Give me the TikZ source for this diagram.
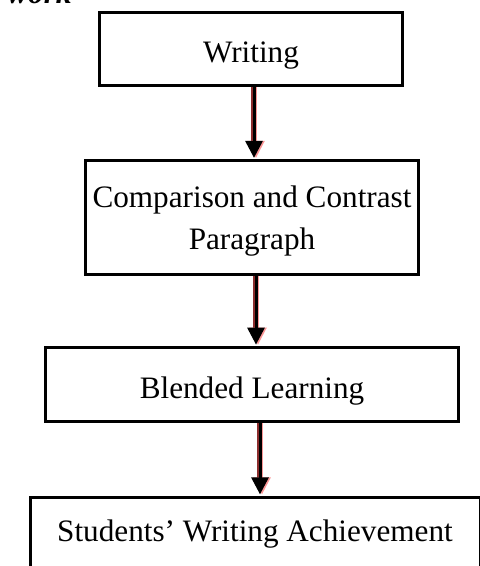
\documentclass[tikz,border=0pt]{standalone}
\usepackage{fontspec}
\setmainfont{Liberation Serif}
\usetikzlibrary{arrows.meta}
\definecolor{shadowred}{RGB}{140,45,45}
\definecolor{shadowpink}{RGB}{250,150,150}
\newcommand{\boxfont}{\fontsize{15.6}{21}\selectfont}

\begin{document}
\begin{tikzpicture}[x=0.5pt, y=-0.5pt,
    box/.style={draw, line width=1.5pt, align=center, inner sep=0pt, font=\boxfont,
      text depth=0pt, text height=14pt},
    link/.style={-{Triangle[width=8.5pt, length=8.5pt]}, line width=1.5pt, shorten >=0.8pt},
    linkshade/.style={link, shadowpink, line width=1.2pt}]
  \useasboundingbox (0,0) rectangle (479,566);
  \node[anchor=base west, inner sep=0pt, font=\boxfont\bfseries\itshape] (head) at (7,3.5) {work};
  \node[box, minimum width=151.5pt, minimum height=36.5pt] (w) at (251,49) {Writing};
  \node[box, minimum width=166.5pt, minimum height=56.5pt, text height=] (c) at (252,217.5)
    {Comparison and Contrast\\Paragraph};
  \node[box, minimum width=206.5pt, minimum height=37pt] (b) at (252,384.75) {Blended Learning};
  \node[box, minimum width=225pt, minimum height=37pt, text height=6.5pt] (s) at (255,534.5)
    {Students’ Writing Achievement};
  % shaded arrows between the boxes
  \foreach \from/\to/\sa/\sb in {w/c/1.5pt/1pt, c/b/2pt/2pt, b/s/4pt/2.5pt} {
    \draw[shadowred, line width=1pt] ([xshift=\sa-1.2pt]\from.south) -- ([xshift=\sb-1.2pt, yshift=4pt]\to.north);
    \draw[linkshade] ([xshift=\sa+1pt]\from.south) -- ([xshift=\sb+1pt]\to.north);
    \draw[link] ([xshift=\sa]\from.south) -- ([xshift=\sb]\to.north);
  }
\end{tikzpicture}
\end{document}
